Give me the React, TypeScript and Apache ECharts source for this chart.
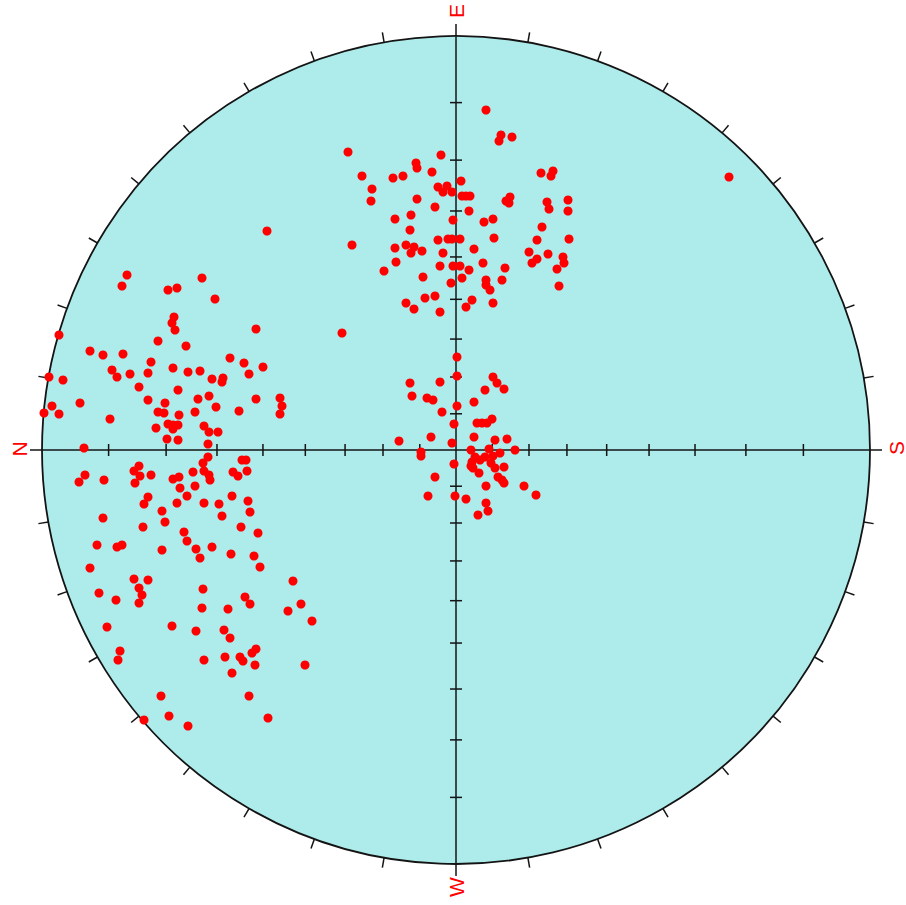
import React, { useEffect, useRef } from "react";
import * as echarts from "echarts";

// Stereonet (equal-angle / Wulff) projected pole positions, in net units where the primitive circle radius = 414.
const NET_RADIUS = 414;
const NET_TICK_DEG = [10, 20, 30, 40, 50, 60, 70, 80];
const RIM_TICK_STEP_DEG = 10;
const DIRECTION_LABELS = ["E", "S", "W", "N"]; // top, right, bottom, left

const upperSet: number[][] = [
  [30, 340], [45, 315], [56, 313], [43, 309], [-108, 298], [-15, 295], [-40, 287], [-39, 282],
  [-94, 274], [-63, 272], [-53, 274], [-24, 278], [5, 269], [-18, 263], [-9, 264], [-13, 258],
  [-4, 258], [6, 254], [10, 254], [14, 254], [-84, 261], [-85, 249], [-39, 251], [-21, 243],
  [-45, 235], [-61, 231], [-3, 230], [13, 239], [28, 228], [37, 231], [85, 277], [97, 279],
  [95, 274], [50, 249], [54, 253], [53, 247], [91, 248], [93, 241], [112, 250], [112, 239],
  [86, 223], [-46, 220], [-104, 205], [-18, 210], [-8, 211], [-4, 211], [4, 211], [38, 212],
  [81, 210], [113, 211], [-61, 202], [-50, 205], [-42, 203], [-45, 197], [-34, 199], [-13, 197],
  [18, 201], [73, 198], [92, 196], [81, 191], [76, 187], [107, 193], [108, 187], [101, 181],
  [-60, 188], [-72, 179], [-16, 184], [-3, 184], [4, 184], [27, 187], [49, 182], [13, 180],
  [-33, 173], [6, 172], [30, 170], [30, 165], [46, 170], [-5, 167], [34, 160], [103, 164],
  [-50, 147], [-42, 141], [-31, 152], [-21, 154], [-16, 138], [16, 150], [10, 143], [37, 147],
];

const isolatedSet: number[][] = [
  [-189, 219], [-114, 117], [273, 273],
];

const leftUpperSet: number[][] = [
  [-329, 175], [-334, 164], [-254, 172], [-288, 160], [-279, 162], [-241, 151], [-282, 133],
  [-284, 127], [-281, 120], [-200, 121], [-397, 115], [-298, 109], [-270, 104], [-366, 99],
  [-353, 95], [-333, 96], [-305, 88], [-226, 92], [-212, 87], [-193, 83], [-207, 76], [-344, 80],
  [-339, 73], [-326, 76], [-308, 77], [-283, 82], [-268, 78], [-256, 79], [-244, 71], [-233, 72],
  [-234, 68], [-407, 73], [-393, 70], [-317, 63], [-278, 60], [-308, 50], [-291, 47], [-258, 51],
  [-247, 54], [-200, 51], [-176, 52], [-174, 44], [-176, 36], [-404, 44], [-412, 37], [-397, 36],
  [-376, 47], [-346, 31], [-298, 38], [-292, 37], [-277, 35], [-261, 38], [-240, 43], [-217, 39],
  [-300, 22], [-288, 26], [-283, 25], [-278, 25], [-283, 21], [-252, 24], [-247, 18], [-238, 18],
  [-289, 11], [-278, 10], [-248, 6], [-372, 2],
];

const leftLowerSet: number[][] = [
  [-248, -7], [-253, -13], [-214, -10], [-210, -10], [-317, -16], [-322, -21], [-316, -26],
  [-305, -25], [-321, -33], [-371, -25], [-377, -32], [-352, -30], [-283, -29], [-277, -27],
  [-276, -38], [-263, -22], [-252, -21], [-247, -25], [-246, -30], [-261, -36], [-223, -22],
  [-218, -26], [-209, -21], [-308, -47], [-312, -54], [-269, -46], [-279, -53], [-252, -53],
  [-237, -54], [-224, -46], [-208, -51], [-206, -62], [-294, -61], [-291, -72], [-234, -66],
  [-353, -68], [-313, -77], [-272, -82], [-269, -91], [-260, -99], [-256, -108], [-244, -97],
  [-215, -77], [-198, -83], [-225, -104], [-202, -106], [-196, -117], [-359, -95], [-339, -97],
  [-334, -95], [-294, -100], [-366, -118], [-322, -129], [-308, -130], [-253, -139], [-163, -131],
  [-317, -138], [-314, -145], [-357, -143], [-340, -150], [-317, -153], [-254, -158], [-228, -159],
  [-211, -147], [-206, -154], [-155, -154], [-168, -161], [-144, -171], [-349, -177], [-284, -176],
  [-260, -181], [-232, -180], [-226, -188], [-336, -201], [-338, -210], [-252, -210], [-231, -207],
  [-216, -207], [-213, -211], [-204, -203], [-200, -199], [-201, -215], [-224, -223], [-151, -215],
  [-295, -246], [-207, -246], [-287, -266], [-312, -270], [-268, -276], [-188, -268],
];

const centralSet: number[][] = [
  [1, 93], [1, 74], [-46, 67], [-16, 68], [37, 73], [41, 67], [48, 61], [29, 60], [-44, 54],
  [-29, 52], [-23, 50], [1, 44], [18, 48], [-14, 38], [-2, 26], [21, 27], [26, 27], [31, 27],
  [36, 31], [-25, 13], [-57, 9], [18, 13], [-4, 7], [39, 10], [51, 11], [-35, -2], [-35, -6],
  [15, 0], [33, 1], [59, 0], [44, -3], [19, -7], [29, -7], [37, -6], [16, -12], [24, -10],
  [35, -13], [15, -16], [-2, -14], [39, -18], [48, -17], [17, -18], [23, -23], [-21, -27],
  [42, -27], [46, -30], [48, -33], [30, -36], [68, -36], [80, -45], [-28, -46], [-1, -46],
  [10, -49], [30, -53], [32, -61], [22, -65],
];

const FILL = "#aeebeb";
const INK = "#141414";
const RED = "#ff0000";

function renderNet(params: any, api: any) {
  const c = api.coord([0, 0]);
  const e = api.coord([NET_RADIUS, 0]);
  const cx = c[0];
  const cy = c[1];
  const r = e[0] - c[0];
  const children: any[] = [];
  children.push({
    type: "circle",
    shape: { cx, cy, r },
    style: { fill: FILL, stroke: INK, lineWidth: 1.8 },
  });
  // rim ticks
  for (let a = RIM_TICK_STEP_DEG; a < 360; a += RIM_TICK_STEP_DEG) {
    if (a % 90 === 0) continue;
    const t = (a * Math.PI) / 180;
    const cs = Math.cos(t);
    const sn = Math.sin(t);
    children.push({
      type: "line",
      shape: { x1: cx + r * cs, y1: cy - r * sn, x2: cx + (r + 10) * cs, y2: cy - (r + 10) * sn },
      style: { stroke: INK, lineWidth: 1.5 },
    });
  }
  // cross lines
  const ext = 12;
  children.push({
    type: "line",
    shape: { x1: cx - r - ext, y1: cy, x2: cx + r + ext, y2: cy },
    style: { stroke: INK, lineWidth: 1.5 },
  });
  children.push({
    type: "line",
    shape: { x1: cx, y1: cy - r - ext, x2: cx, y2: cy + r + ext },
    style: { stroke: INK, lineWidth: 1.5 },
  });
  // axis ticks at Wulff-net angular distances
  const h = 6;
  NET_TICK_DEG.forEach((deg) => {
    const d = r * Math.tan(((deg / 2) * Math.PI) / 180);
    [-1, 1].forEach((s) => {
      children.push({
        type: "line",
        shape: { x1: cx + s * d, y1: cy - h, x2: cx + s * d, y2: cy + h },
        style: { stroke: INK, lineWidth: 1.5 },
      });
      children.push({
        type: "line",
        shape: { x1: cx - h, y1: cy + s * d, x2: cx + h, y2: cy + s * d },
        style: { stroke: INK, lineWidth: 1.5 },
      });
    });
  });
  // direction labels (top, right, bottom, left)
  const pos = [
    [cx, cy - r - 25],
    [cx + r + 26, cy - 2],
    [cx, cy + r + 23],
    [cx - r - 23, cy - 1],
  ];
  DIRECTION_LABELS.forEach((lab, i) => {
    children.push({
      type: "text",
      x: pos[i][0],
      y: pos[i][1],
      rotation: Math.PI / 2,
      style: {
        text: lab,
        fill: RED,
        font: '21px "Liberation Sans", Arial, sans-serif',
        align: "center",
        verticalAlign: "middle",
        textAlign: "center",
        textVerticalAlign: "middle",
      },
    });
  });
  return { type: "group", children };
}

export default function App() {
  const ref = useRef<HTMLDivElement>(null);
  useEffect(() => {
    if (!ref.current) return;
    const chart = echarts.init(ref.current, null, { renderer: "svg" });
    const poles = [
      ...upperSet,
      ...isolatedSet,
      ...leftUpperSet,
      ...leftLowerSet,
      ...centralSet,
    ];
    chart.setOption({
      animation: false,
      backgroundColor: "#ffffff",
      grid: { left: 42, top: 36, width: 828, height: 828 },
      xAxis: { type: "value", min: -NET_RADIUS, max: NET_RADIUS, show: false },
      yAxis: { type: "value", min: -NET_RADIUS, max: NET_RADIUS, show: false },
      series: [
        {
          type: "custom",
          renderItem: renderNet,
          data: [[0, 0]],
          silent: true,
          z: 1,
          clip: false,
        },
        {
          type: "scatter",
          data: poles,
          symbol: "circle",
          symbolSize: 9,
          itemStyle: { color: RED, opacity: 1 },
          silent: true,
          z: 3,
        },
      ],
    });
    return () => chart.dispose();
  }, []);
  return (
    <div
      ref={ref}
      style={{ position: "absolute", left: 0, top: 0, width: 906, height: 905 }}
    />
  );
}
